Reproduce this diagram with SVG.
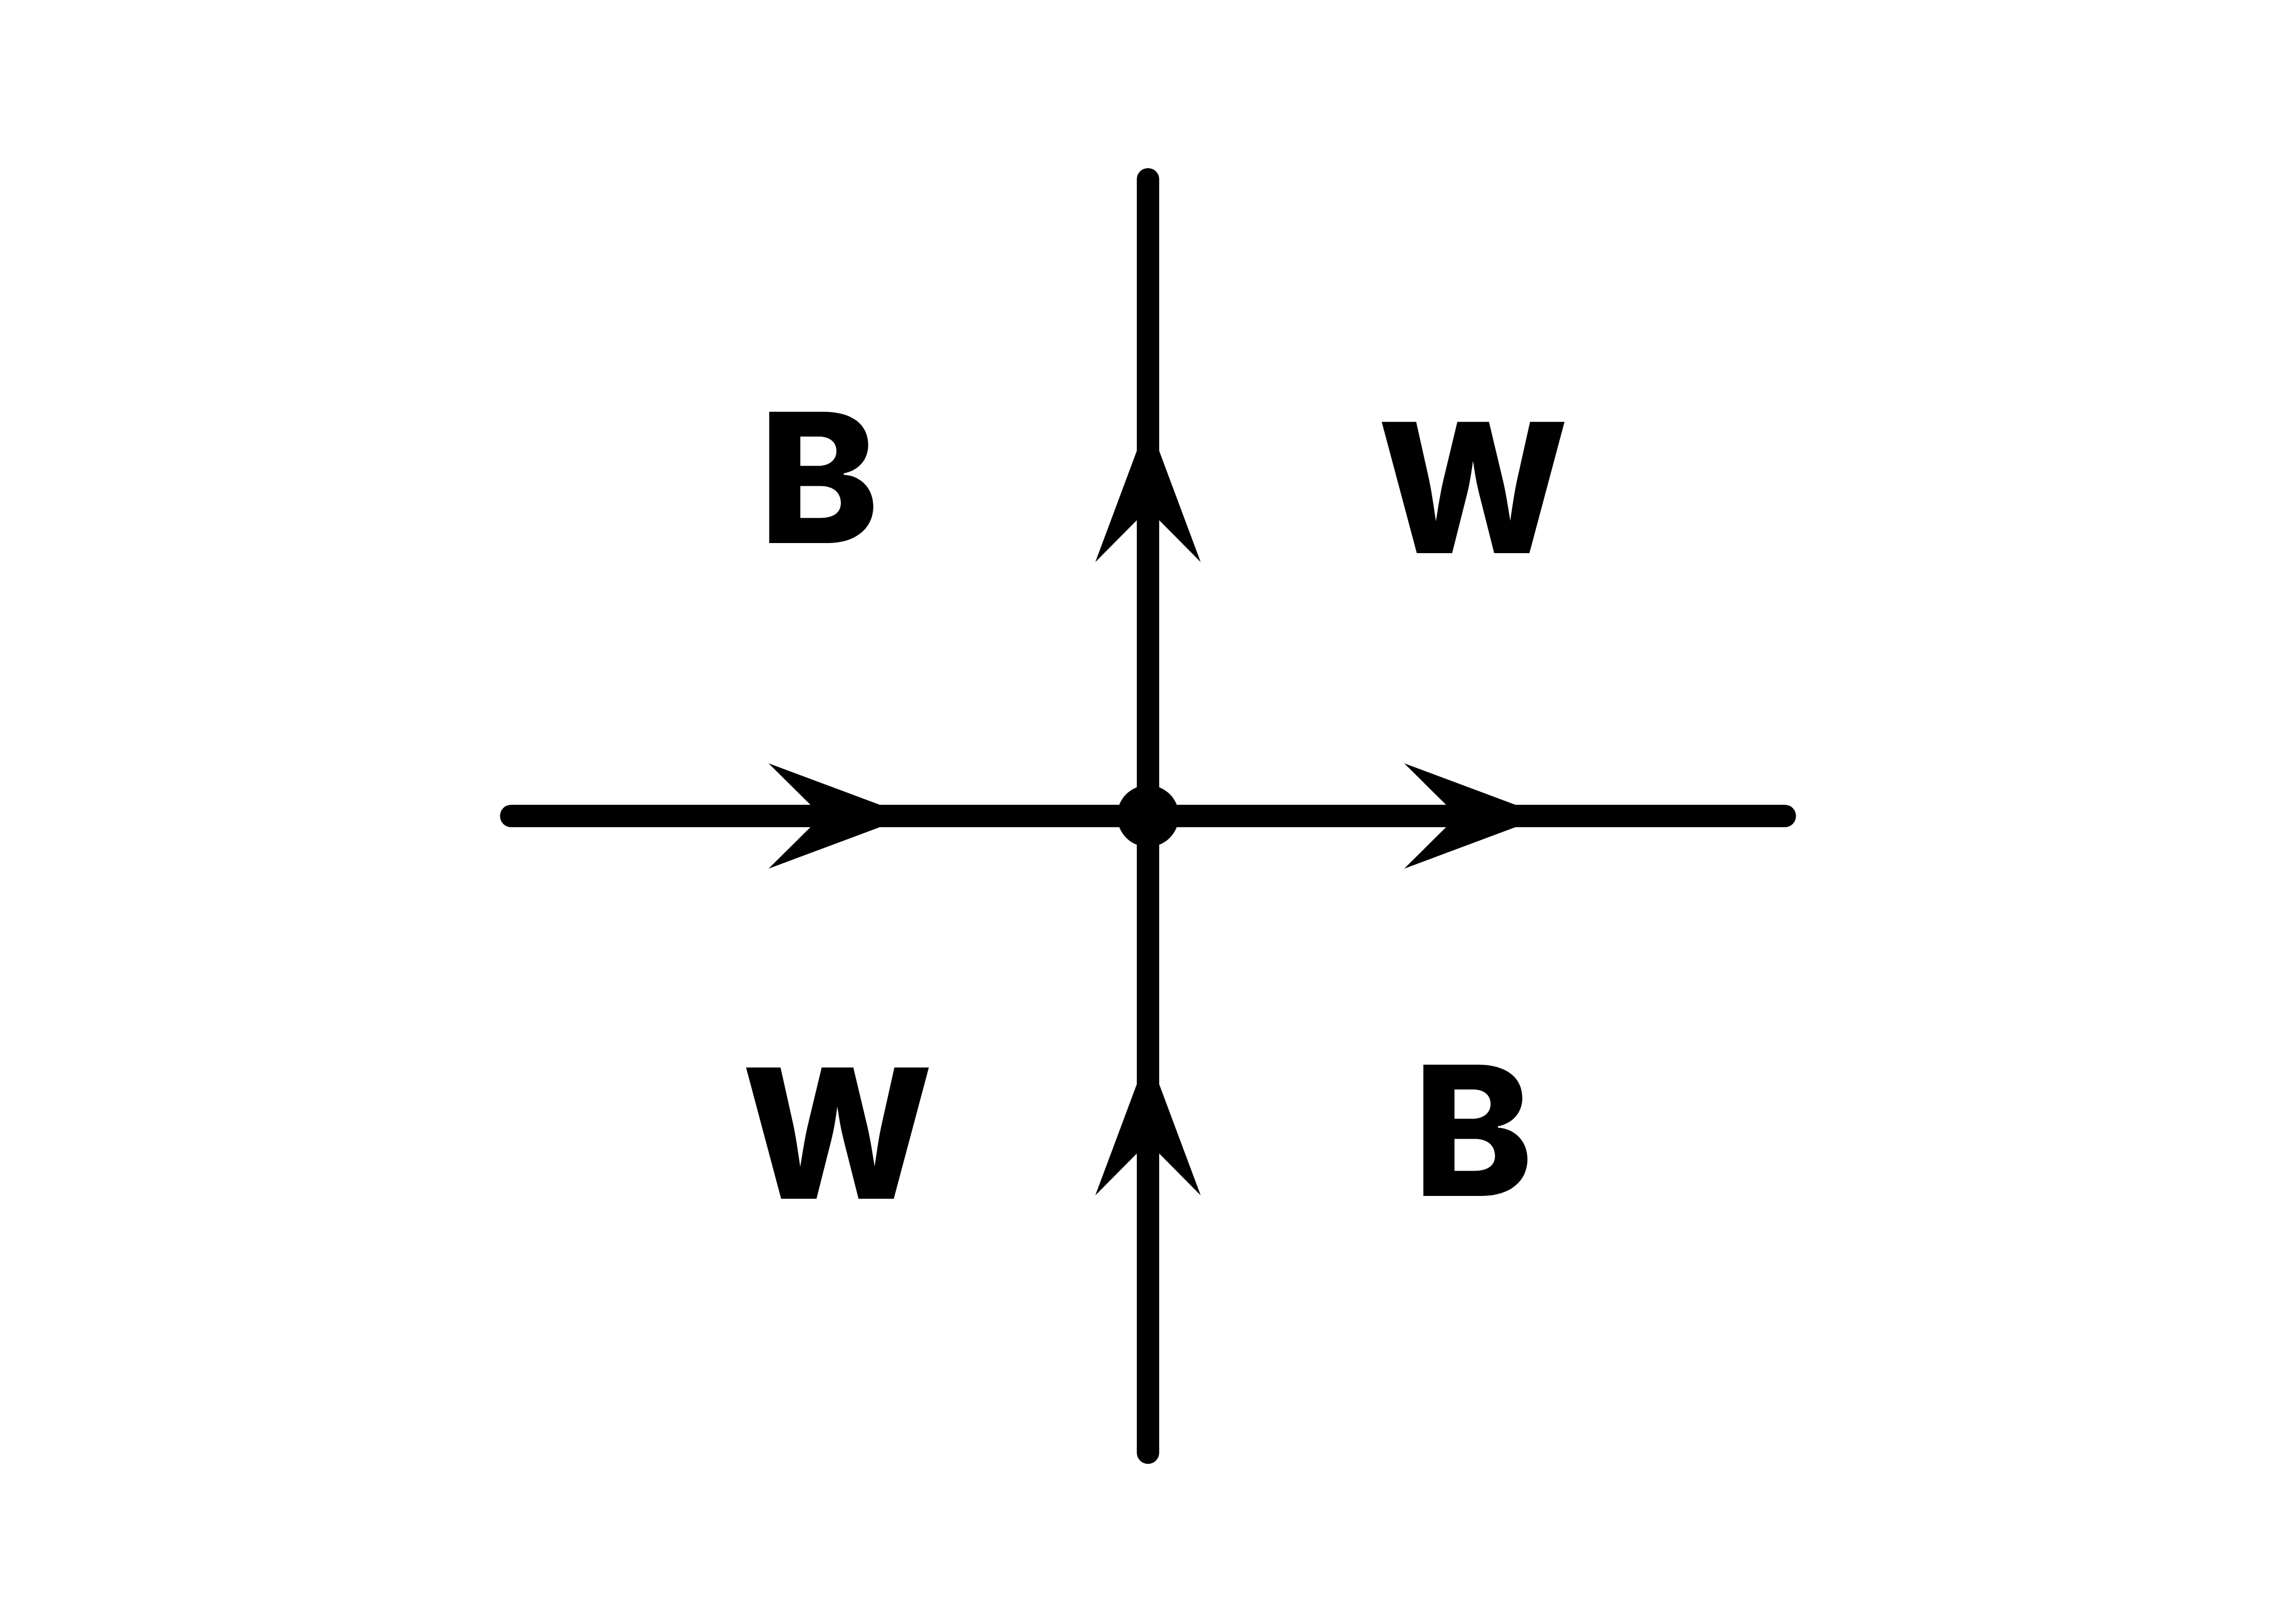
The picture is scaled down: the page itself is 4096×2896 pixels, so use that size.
<svg xmlns="http://www.w3.org/2000/svg" xmlns:xlink="http://www.w3.org/1999/xlink" width="4096" height="2896" viewBox="0 0 4096 2896">
<style>
.edge{stroke:#000;stroke-width:40;stroke-linecap:round;fill:none}
.lbl{font-family:Inter,"Liberation Sans",sans-serif;font-weight:800;font-size:322px;fill:#000;text-anchor:middle}
</style>
<defs>
<path id="ah" d="M0,0 L-252,-94 L-157,0 L-252,94 Z" fill="#000"/>
</defs>
<rect width="4096" height="2896" fill="#fff"/>
<g id="connectors">
<line class="edge" x1="912" y1="1456" x2="2048" y2="1456"/>
<line class="edge" x1="2048" y1="1456" x2="3184" y2="1456"/>
<line class="edge" x1="2048" y1="2592" x2="2048" y2="1456"/>
<line class="edge" x1="2048" y1="1456" x2="2048" y2="320"/>
<use xlink:href="#ah" transform="translate(1623,1456)"/>
<use xlink:href="#ah" transform="translate(2757,1456)"/>
<use xlink:href="#ah" transform="translate(2048,751) rotate(-90)"/>
<use xlink:href="#ah" transform="translate(2048,1881) rotate(-90)"/>
</g>
<g id="center"><circle cx="2048" cy="1456" r="55" fill="#000"/></g>
<g id="label-b1"><text class="lbl" x="1461" y="969">B</text></g>
<g id="label-w1"><text class="lbl" x="2628" y="987">W</text></g>
<g id="label-w2"><text class="lbl" x="1494" y="2139">W</text></g>
<g id="label-b2"><text class="lbl" x="2628" y="2134">B</text></g>
</svg>
